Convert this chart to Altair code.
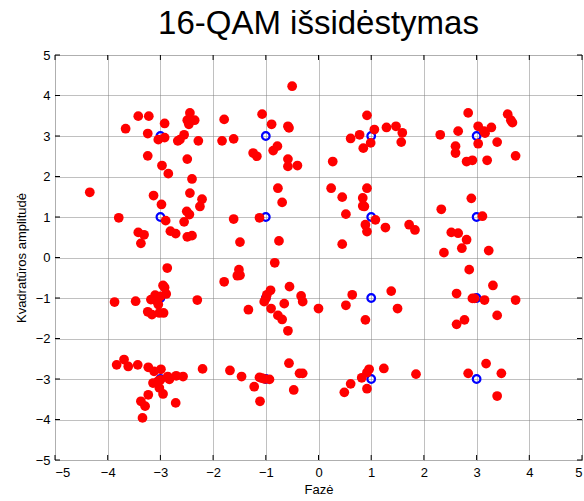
import altair as alt
import pandas as pd

# Received 16-QAM symbols (in-phase, quadrature)
rx_i = [
    -3.42, -3.22, -3.66, -2.92, -3.24, -3.04, -2.92, -2.67, -2.63, -2.55, -2.44, -2.49, -2.35, -2.46,
    -3.24, -2.49, -2.97, -2.85, -2.28,
    -4.34, -3.13, -2.98, -3.79, -2.90, -2.55, -2.50, -2.45, -2.81, -2.71, -3.42, -3.31, -3.37, -2.49,
    -2.40, -2.40, -2.44, -2.21, -2.25,
    -0.50, -1.79, -1.83, -1.61, -1.07, -0.89, -0.58, -0.56, -1.24, -1.17, -0.86, -0.78, -0.58, -0.58, -0.40,
    -1.61, -1.12, -0.77, -0.69, -1.49, -0.75,
    0.92, 1.06, 1.29, 1.47, 1.59, 0.78, 0.61, 0.99, 0.85, 1.57, 0.27,
    0.24, 0.92, 0.45, 0.84, 0.84, 0.87, 0.52, 1.08, 0.89, 0.92, 1.27, 1.72, 1.83, 0.45,
    2.31, 2.84, 3.59, 3.65, 3.68, 3.03, 3.28, 3.14, 3.16, 2.65, 3.39, 3.03, 2.60, 2.60, 2.81, 2.92, 3.20, 3.74,
    2.90, 3.11, 2.33, 2.52, 2.65, 2.81, 2.72, 2.38, 3.23,
    -2.87, -2.95, -2.92, -2.89, -3.00, -3.10, -3.18, -3.06, -3.04, -3.87, -3.47, -3.24, -3.16, -3.02, -2.94, -2.30,
    -0.83, -1.51, -1.54, -1.49, -1.79, -0.91, -0.98, -1.00, -1.03, -0.55, -0.33, -0.30, -0.65, -0.90, -1.33,
    -0.77, -0.69, -0.58, 0.00,
    0.64, 1.38, 0.52, 1.50, 0.89,
    2.86, 3.31, 2.62, 2.92, 2.96, 3.15, 3.74, 3.39, 2.77, 2.62,
    -3.69, -3.83, -3.61, -3.43, -3.23, -3.12, -2.99, -3.14, -3.05, -3.00, -2.86, -2.83, -2.70, -2.57,
    -3.02, -2.95, -3.23, -2.71, -3.37, -3.29, -3.34, -2.20,
    -1.68, -1.46, -1.12, -1.07, -1.02, -0.93, -1.22, -1.11, -0.56, -0.36, -0.30, -0.47,
    0.96, 0.92, 0.82, 1.24, 0.61, 0.49, 0.92, 1.85,
    3.18, 2.84, 3.47, 3.39,
]
rx_q = [
    3.49, 3.49, 3.18, 3.31, 3.06, 2.91, 2.96, 2.88, 2.91, 3.03, 3.57, 3.39, 3.39, 3.29,
    2.51, 2.43, 2.27, 2.07, 2.88,
    1.61, 1.53, 1.31, 0.98, 0.91, 0.88, 1.14, 1.06, 0.65, 0.59, 0.62, 0.56, 0.35, 0.51,
    0.54, 1.94, 1.59, 1.44, 1.26,
    4.23, 3.41, 2.88, 2.93, 3.54, 3.29, 3.24, 3.20, 2.58, 2.50, 2.64, 2.75, 2.43, 2.25, 2.27,
    0.95, 0.98, 1.71, 1.36, 0.38, 0.41,
    3.51, 3.16, 3.21, 3.24, 3.08, 3.03, 2.94, 2.83, 2.70, 2.85, 2.37,
    1.71, 1.71, 1.49, 1.47, 1.27, 1.26, 1.07, 0.93, 0.81, 0.64, 0.74, 0.81, 0.68, 0.33,
    3.03, 3.57, 3.54, 3.39, 3.33, 3.24, 3.21, 3.12, 3.07, 3.12, 2.85, 2.81, 2.75, 2.58, 2.37, 2.40, 2.40, 2.51,
    1.46, 1.02, 1.19, 0.62, 0.60, 0.44, 0.23, 0.12, 0.17,
    -0.26, -0.69, -0.74, -0.90, -0.96, -0.93, -1.04, -1.09, -1.16, -1.10, -1.08, -1.34, -1.41, -1.37, -1.37, -1.05,
    -0.13, -0.30, -0.45, -0.44, -0.60, -0.81, -0.92, -1.01, -1.09, -0.72, -0.95, -1.09, -1.14, -1.26, -1.29,
    -1.43, -1.53, -1.81, -1.26,
    -0.92, -0.83, -1.18, -1.26, -1.54,
    -0.30, -0.69, -0.89, -1.01, -1.01, -1.05, -1.05, -1.43, -1.54, -1.65,
    -2.52, -2.65, -2.69, -2.65, -2.71, -2.81, -2.76, -3.10, -3.06, -3.02, -2.94, -3.01, -2.92, -2.94,
    -3.22, -3.37, -3.39, -3.59, -3.55, -3.67, -3.96, -2.75,
    -2.79, -2.94, -2.96, -2.98, -3.00, -3.01, -3.19, -3.55, -2.61, -2.86, -2.86, -3.27,
    -2.76, -2.84, -2.97, -2.74, -3.12, -3.33, -3.24, -2.88,
    -2.62, -2.86, -2.86, -3.42,
]

# Ideal constellation points
levels = [-3, -1, 1, 3]
ideal_i = [i for i in levels for q in levels]
ideal_q = [q for i in levels for q in levels]

ticks = [-5, -4, -3, -2, -1, 0, 1, 2, 3, 4, 5]

W, H = 527, 405
FONT = "Liberation Sans"

rx = pd.DataFrame({"i": rx_i, "q": rx_q})
ideal = pd.DataFrame({"i": ideal_i, "q": ideal_q})
tick_df = pd.DataFrame({"t": ticks})

xs = alt.Scale(domain=[-5, 5], nice=False, zero=False)
ys = alt.Scale(domain=[-5, 5], nice=False, zero=False)

axis_common = dict(
    values=ticks, grid=True, gridColor="#808080", gridDash=[1, 1], gridWidth=1,
    tickSize=0, domain=False, labelFont=FONT, labelFontSize=13, labelColor="black",
    titleFont=FONT, titleFontSize=13, titleFontWeight="normal", titleColor="black",
)

x_enc = alt.X("i:Q", scale=xs, axis=alt.Axis(title="Fazė", labelPadding=6, titlePadding=4, **axis_common))
y_enc = alt.Y("q:Q", scale=ys, axis=alt.Axis(title="Kvadratūros amplitudė", labelPadding=5, titlePadding=7, **axis_common))

ideal_layer = alt.Chart(ideal).mark_point(
    shape="circle", filled=False, color="#0000ff", strokeWidth=2.2, size=58, opacity=1
).encode(x=x_enc, y=y_enc)

rx_layer = alt.Chart(rx).mark_circle(color="#ff0000", size=95, opacity=1).encode(
    x=alt.X("i:Q", scale=xs), y=alt.Y("q:Q", scale=ys)
)

# Inward tick marks on all four sides of the box
tx = alt.X("t:Q", scale=xs)
ty = alt.Y("t:Q", scale=ys)
tick_bottom = alt.Chart(tick_df).mark_rule(color="black").encode(x=tx, y=alt.value(H), y2=alt.value(H - 5))
tick_top = alt.Chart(tick_df).mark_rule(color="black").encode(x=tx, y=alt.value(0), y2=alt.value(5))
tick_left = alt.Chart(tick_df).mark_rule(color="black").encode(y=ty, x=alt.value(0), x2=alt.value(5))
tick_right = alt.Chart(tick_df).mark_rule(color="black").encode(y=ty, x=alt.value(W), x2=alt.value(W - 5))

chart = alt.layer(
    ideal_layer, rx_layer, tick_bottom, tick_top, tick_left, tick_right
).properties(
    width=W, height=H,
    title=alt.TitleParams(
        "16-QAM išsidėstymas", font=FONT, fontSize=33, fontWeight="normal",
        color="black", anchor="middle", offset=8,
    ),
    padding={"left": 55, "top": 55, "right": 2, "bottom": 41},
    autosize=alt.AutoSizeParams(type="none"),
).configure_view(stroke="black", strokeWidth=1.5).configure(background="white")

chart.save("out.html", embed_options={"renderer": "svg", "actions": False})
